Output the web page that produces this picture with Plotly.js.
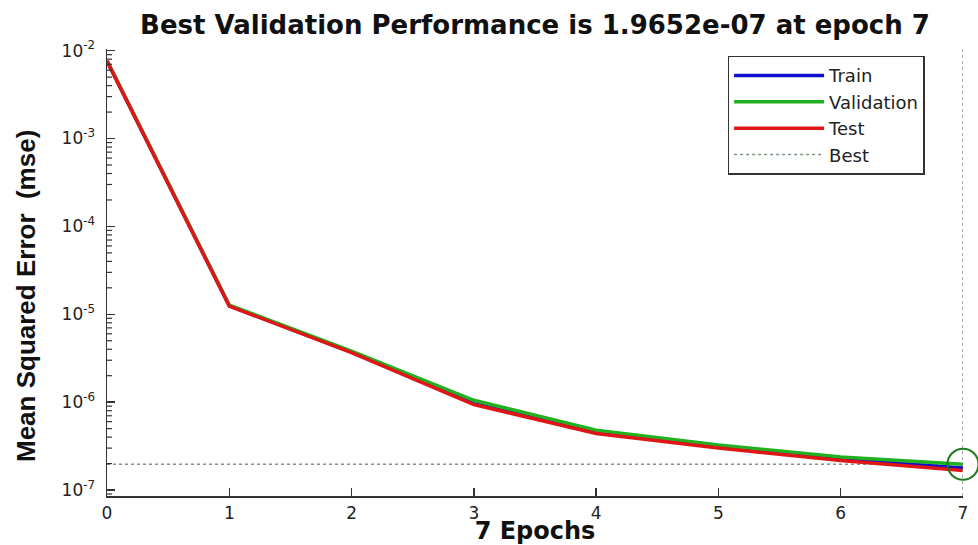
<!DOCTYPE html>
<html>
<head>
<meta charset="utf-8">
<script src="https://cdn.plot.ly/plotly-3.0.1.min.js"></script>
<style>html,body{margin:0;padding:0;background:#fff;}#chart{width:978px;height:545px;}</style>
</head>
<body>
<div id="chart"></div>
<script>
const epochs = [0, 1, 2, 3, 4, 5, 6, 7];
const trainPerf = [7.6e-3, 1.25e-5, 3.7e-6, 9.6e-7, 4.6e-7, 3.1e-7, 2.26e-7, 1.78e-7];
const validationPerf = [7.7e-3, 1.27e-5, 3.8e-6, 1.05e-6, 4.8e-7, 3.25e-7, 2.37e-7, 1.9652e-7];
const testPerf = [7.6e-3, 1.24e-5, 3.65e-6, 9.4e-7, 4.4e-7, 3.0e-7, 2.17e-7, 1.67e-7];
const bestEpoch = 7;
const bestPerf = 1.9652e-7;
const xTickVals = [0, 1, 2, 3, 4, 5, 6, 7];
const xTickText = ['0', '1', '2', '3', '4', '5', '6', '7'];
const yTickVals = [1e-7, 1e-6, 1e-5, 1e-4, 1e-3, 1e-2];
const yTickText = ['10<sup>-7</sup>', '10<sup>-6</sup>', '10<sup>-5</sup>', '10<sup>-4</sup>', '10<sup>-3</sup>', '10<sup>-2</sup>'];
const titleText = 'Best Validation Performance is 1.9652e-07 at epoch 7';
const xTitle = '7 Epochs';
const yTitle = 'Mean Squared Error  (mse)';

const yRange = [-7.068, -1.981];

// minor log tick marks (2..9 in each decade), drawn as short inward marks on the y axis
const minorShapes = [];
for (let k = -8; k <= -3; k++) {
  for (let m = 2; m <= 9; m++) {
    const v = m * Math.pow(10, k);
    const ly = Math.log10(v);
    if (ly < yRange[0] || ly > yRange[1]) continue;
    minorShapes.push({type: 'line', xref: 'paper', yref: 'y', x0: 0, x1: 5 / 856, y0: v, y1: v,
                      line: {color: '#333', width: 1.2}});
  }
}

const traces = [
  {x: [epochs[0], epochs[epochs.length - 1]], y: [bestPerf, bestPerf], name: 'Best', mode: 'lines',
   line: {color: '#7f937f', width: 1.5, dash: 'dot'}, legendrank: 4},
  {x: epochs, y: trainPerf, name: 'Train', mode: 'lines', line: {color: '#1010d0', width: 3.5}, legendrank: 1},
  {x: epochs, y: validationPerf, name: 'Validation', mode: 'lines', line: {color: '#20b020', width: 3.5}, legendrank: 2},
  {x: epochs, y: testPerf, name: 'Test', mode: 'lines', line: {color: '#e01515', width: 3.5}, legendrank: 3},
  {x: [bestEpoch], y: [bestPerf], mode: 'markers', showlegend: false, hoverinfo: 'skip', cliponaxis: false,
   marker: {symbol: 'circle-open', size: 31, color: '#1f7a1f', line: {width: 2, color: '#1f7a1f'}}}
];

const layout = {
  width: 978, height: 545,
  paper_bgcolor: '#fff', plot_bgcolor: '#fff',
  margin: {l: 107, r: 15, t: 49, b: 49},
  font: {family: 'DejaVu Sans, sans-serif', color: '#222', size: 18},
  title: {text: titleText, font: {family: 'DejaVu Sans, sans-serif', size: 26, weight: 'bold', color: '#111'},
          x: 0.5, xref: 'paper', xanchor: 'center', y: 1 - 25 / 545, yref: 'container', yanchor: 'middle'},
  showlegend: true,
  legend: {x: 0.725, y: 0.985, xanchor: 'left', yanchor: 'top', bgcolor: '#fff', bordercolor: '#333', borderwidth: 1.5,
           font: {family: 'DejaVu Sans, sans-serif', size: 18, color: '#222'}, itemwidth: 90, tracegroupgap: 0},
  xaxis: {range: [0, 7], tickvals: xTickVals, ticktext: xTickText, ticks: 'inside', ticklen: 8, tickwidth: 1.5,
          tickcolor: '#333', showline: true, linecolor: '#333', linewidth: 1.5, showgrid: false, zeroline: false,
          tickfont: {family: 'DejaVu Sans, sans-serif', size: 17, color: '#222'}, ticklabelstandoff: 1, automargin: false,
          title: {text: xTitle, font: {family: 'DejaVu Sans, sans-serif', size: 24, weight: 'bold', color: '#111'}, standoff: 6}},
  yaxis: {type: 'log', range: yRange, tickvals: yTickVals, ticktext: yTickText, ticks: 'inside', ticklen: 8,
          tickwidth: 1.5, tickcolor: '#333', showline: true, linecolor: '#333', linewidth: 1.5, showgrid: false, zeroline: false,
          tickfont: {family: 'DejaVu Sans, sans-serif', size: 17, color: '#222'}, ticklabelstandoff: 7, automargin: false},
  annotations: [{text: yTitle, textangle: -90, xref: 'paper', yref: 'paper', x: (26 - 107) / 856, y: (496 - 296) / 447,
                 xanchor: 'center', yanchor: 'middle', showarrow: false,
                 font: {family: 'Liberation Sans, Arial, sans-serif', size: 26, weight: 'bold', color: '#111'}}],
  shapes: [{type: 'line', xref: 'x', yref: 'paper', x0: bestEpoch, x1: bestEpoch, y0: 0, y1: 1,
            line: {color: '#7f937f', width: 1.5, dash: 'dot'}}].concat(minorShapes)
};

Plotly.newPlot('chart', traces, layout, {displayModeBar: false, staticPlot: true});
</script>
</body>
</html>
